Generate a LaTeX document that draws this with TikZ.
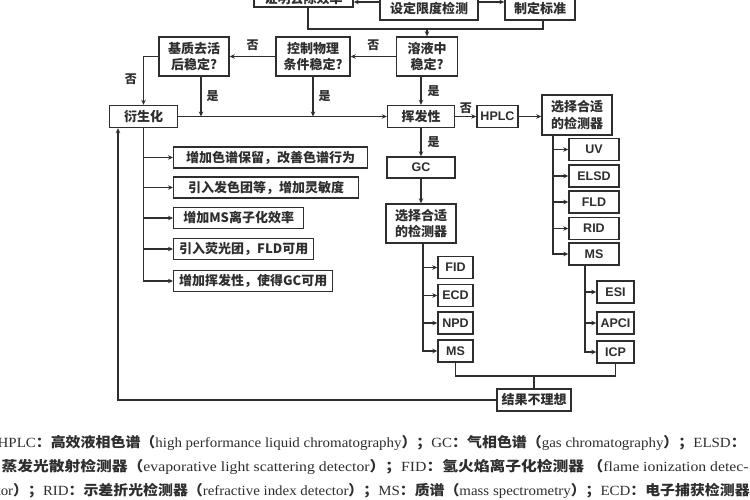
\documentclass[tikz,border=0pt]{standalone}
\usepackage{fontspec}
\setmainfont{Liberation Serif}
\newfontfamily\cjk{Noto Sans CJK SC}
\newfontfamily\ar{Liberation Sans}
\usetikzlibrary{arrows.meta}
\definecolor{ink}{HTML}{2E2E2E}
\begin{document}
\begin{tikzpicture}[x=1pt,y=-1pt,
  line width=1.3pt, draw=ink,
  arr/.style={-{Stealth[length=5pt,width=4.5pt]}},
  box/.style={draw=ink, line width=1.4pt, inner sep=0pt, align=center, text=ink,
    font=\cjk\bfseries\fontsize{13}{16.5}\selectfont},
  lbox/.style={box, font=\ar\bfseries\fontsize{12.5}{14}\selectfont},
  yn/.style={text=ink, font=\cjk\bfseries\fontsize{12}{14}\selectfont, inner sep=0pt},
  captext/.style={anchor=west, inner sep=0pt, text=ink, font=\fontsize{14}{16}\selectfont}]
\useasboundingbox (0,0) rectangle (750,500);
\fill[white] (0,0) rectangle (750,500);
\clip (0,0) rectangle (750,500);

% top row
\node[box, minimum width=99pt, minimum height=16pt] (zm) at (303.5,-1) {证明去除效率};
\node[box, minimum width=98pt, minimum height=24pt] (sd) at (429,8) {设定限度检测};
\node[box, minimum width=70pt, minimum height=24pt] (zd) at (540,8) {制定标准};

% second row
\node[box, minimum width=70pt, minimum height=39pt] (jz) at (194,56.5) {基质去活\\后稳定?};
\node[box, minimum width=74pt, minimum height=39pt] (kz) at (313,56.5) {控制物理\\条件稳定?};
\node[box, minimum width=61pt, minimum height=39pt] (sy) at (427,56.5) {溶液中\\稳定?};

% third row
\node[box, minimum width=68pt, minimum height=22pt] (ysh) at (143.5,116.5) {衍生化};
\node[box, minimum width=67pt, minimum height=22pt] (hf) at (421,116.5) {挥发性};
\node[lbox, minimum width=41pt, minimum height=22pt] (hplc) at (497.5,116.5) {HPLC};
\node[box, minimum width=70pt, minimum height=40pt] (hdet) at (577,115) {选择合适\\的检测器};

% derivatization branches
\node[box, anchor=west, minimum width=194pt, minimum height=21pt] (d1) at (173,157.5) {增加色谱保留，改善色谱行为};
\node[box, anchor=west, minimum width=185pt, minimum height=21pt] (d2) at (173,187.5) {引入发色团等，增加灵敏度};
\node[box, anchor=west, minimum width=130pt, minimum height=21pt] (d3) at (173,218) {增加MS离子化效率};
\node[box, anchor=west, minimum width=140pt, minimum height=21pt] (d4) at (173,249) {引入荧光团，FLD可用};
\node[box, anchor=west, minimum width=159pt, minimum height=21pt] (d5) at (173,281) {增加挥发性，使得GC可用};

% GC column
\node[lbox, minimum width=68pt, minimum height=21pt] (gc) at (421,167.5) {GC};
\node[box, minimum width=70pt, minimum height=39pt] (gdet) at (421,223.5) {选择合适\\的检测器};
\node[lbox, minimum width=35pt, minimum height=22pt] (fid) at (455.5,267.5) {FID};
\node[lbox, minimum width=35pt, minimum height=22pt] (ecd) at (455.5,295.5) {ECD};
\node[lbox, minimum width=35pt, minimum height=22pt] (npd) at (455.5,323) {NPD};
\node[lbox, minimum width=35pt, minimum height=22pt] (gms) at (455.5,351) {MS};

% HPLC column
\node[lbox, minimum width=50pt, minimum height=22pt] (uv) at (594,149.5) {UV};
\node[lbox, minimum width=50pt, minimum height=22pt] (elsd) at (594,176) {ELSD};
\node[lbox, minimum width=50pt, minimum height=22pt] (fld) at (594,202) {FLD};
\node[lbox, minimum width=50pt, minimum height=22pt] (rid) at (594,228.5) {RID};
\node[lbox, minimum width=50pt, minimum height=22pt] (hms) at (594,254) {MS};
\node[lbox, minimum width=37pt, minimum height=22pt] (esi) at (615.5,292) {ESI};
\node[lbox, minimum width=37pt, minimum height=22pt] (apci) at (615.5,323) {APCI};
\node[lbox, minimum width=37pt, minimum height=22pt] (icp) at (615.5,352) {ICP};

% result
\node[box, minimum width=74pt, minimum height=22pt] (res) at (534,400) {结果不理想};

% top connectors
\draw[arr] ([yshift=6pt]sd.west) -- ([yshift=-3pt]zm.east);
\draw[arr] ([yshift=6pt]sd.east) -- ([yshift=6pt]zd.west);
\coordinate (br) at (427,29);
\draw ([xshift=4.5pt]zm.south) |- (br) -| ([xshift=3pt]zd.south);
\draw[arr] (br) -- (sy.north);

% row 2 connectors
\draw[arr] (sy.west) -- node[yn, above=5pt] {否} (kz.east);
\draw[arr] (kz.west) -- node[yn, above=5pt] {否} (jz.east);
\draw[arr] (jz.west) -| node[yn, pos=0.74, left=6pt] {否} (ysh.north);

% yes connectors
\draw[arr] (ysh.east) -- (hf.west);
\draw[arr] ([xshift=7pt]jz.south) -- node[yn, right=5pt] {是} ([xshift=7pt]jz.south |- ysh.east);
\draw[arr] (kz.south) -- node[yn, right=5pt] {是} (kz.south |- ysh.east);
\draw[arr] (sy.south -| hf.north) -- node[yn, right=6pt] {是} (hf.north);
\draw[arr] (hf.east) -- node[yn, above=2pt] {否} (hplc.west);
\draw[arr] (hplc.east) -- (hplc.east -| hdet.west);

% derivatization tree
\draw[arr] (ysh.south) |- (d1.west);
\draw[arr] (ysh.south) |- (d2.west);
\draw[arr] (ysh.south) |- (d3.west);
\draw[arr] (ysh.south) |- (d4.west);
\draw[arr] (ysh.south) |- (d5.west);

% GC tree
\draw[arr] (hf.south) -- node[yn, right=6pt] {是} (gc.north);
\draw[arr] (gc.south) -- (gdet.north);
\draw[arr] ([xshift=2pt]gdet.south) |- (fid.west);
\draw[arr] ([xshift=2pt]gdet.south) |- (ecd.west);
\draw[arr] ([xshift=2pt]gdet.south) |- (npd.west);
\draw[arr] ([xshift=2pt]gdet.south) |- (gms.west);

% HPLC tree
\draw[arr] ([xshift=-24pt]hdet.south) |- (uv.west);
\draw[arr] ([xshift=-24pt]hdet.south) |- (elsd.west);
\draw[arr] ([xshift=-24pt]hdet.south) |- (fld.west);
\draw[arr] ([xshift=-24pt]hdet.south) |- (rid.west);
\draw[arr] ([xshift=-24pt]hdet.south) |- (hms.west);
\draw[arr] ([xshift=-9pt]hms.south) |- (esi.west);
\draw[arr] ([xshift=-9pt]hms.south) |- (apci.west);
\draw[arr] ([xshift=-9pt]hms.south) |- (icp.west);

% bottom bracket and feedback
\coordinate (bb) at (534,376);
\draw (gms.south) |- (bb) -| (icp.south);
\draw (bb) -- (res.north);
\coordinate (fb) at (118,400);
\draw[arr] (res.west) -- (fb) -- (fb |- ysh.south);

% caption
\node[captext] (c1) at (-3,443) {\resizebox{748pt}{\height}{HPLC{\cjk\bfseries ：高效液相色谱（}high performance liquid chromatography{\cjk\bfseries ）；}GC{\cjk\bfseries ：气相色谱（}gas chromatography{\cjk\bfseries ）；}ELSD{\cjk\bfseries ：}}};
\node[captext] (c2) at (1,467) {\resizebox{747pt}{\height}{{\cjk\bfseries 蒸发光散射检测器（}evaporative light scattering detector{\cjk\bfseries ）；}FID{\cjk\bfseries ：氢火焰离子化检测器 （}flame ionization detec-}};
\node[captext] (c3) at (-4,491) {\resizebox{753pt}{\height}{tor{\cjk\bfseries ）；}RID{\cjk\bfseries ：示差折光检测器（}refractive index detector{\cjk\bfseries ）；}MS{\cjk\bfseries ：质谱（}mass spectrometry{\cjk\bfseries ）；}ECD{\cjk\bfseries ：电子捕获检测器}}};
\end{tikzpicture}
\end{document}
